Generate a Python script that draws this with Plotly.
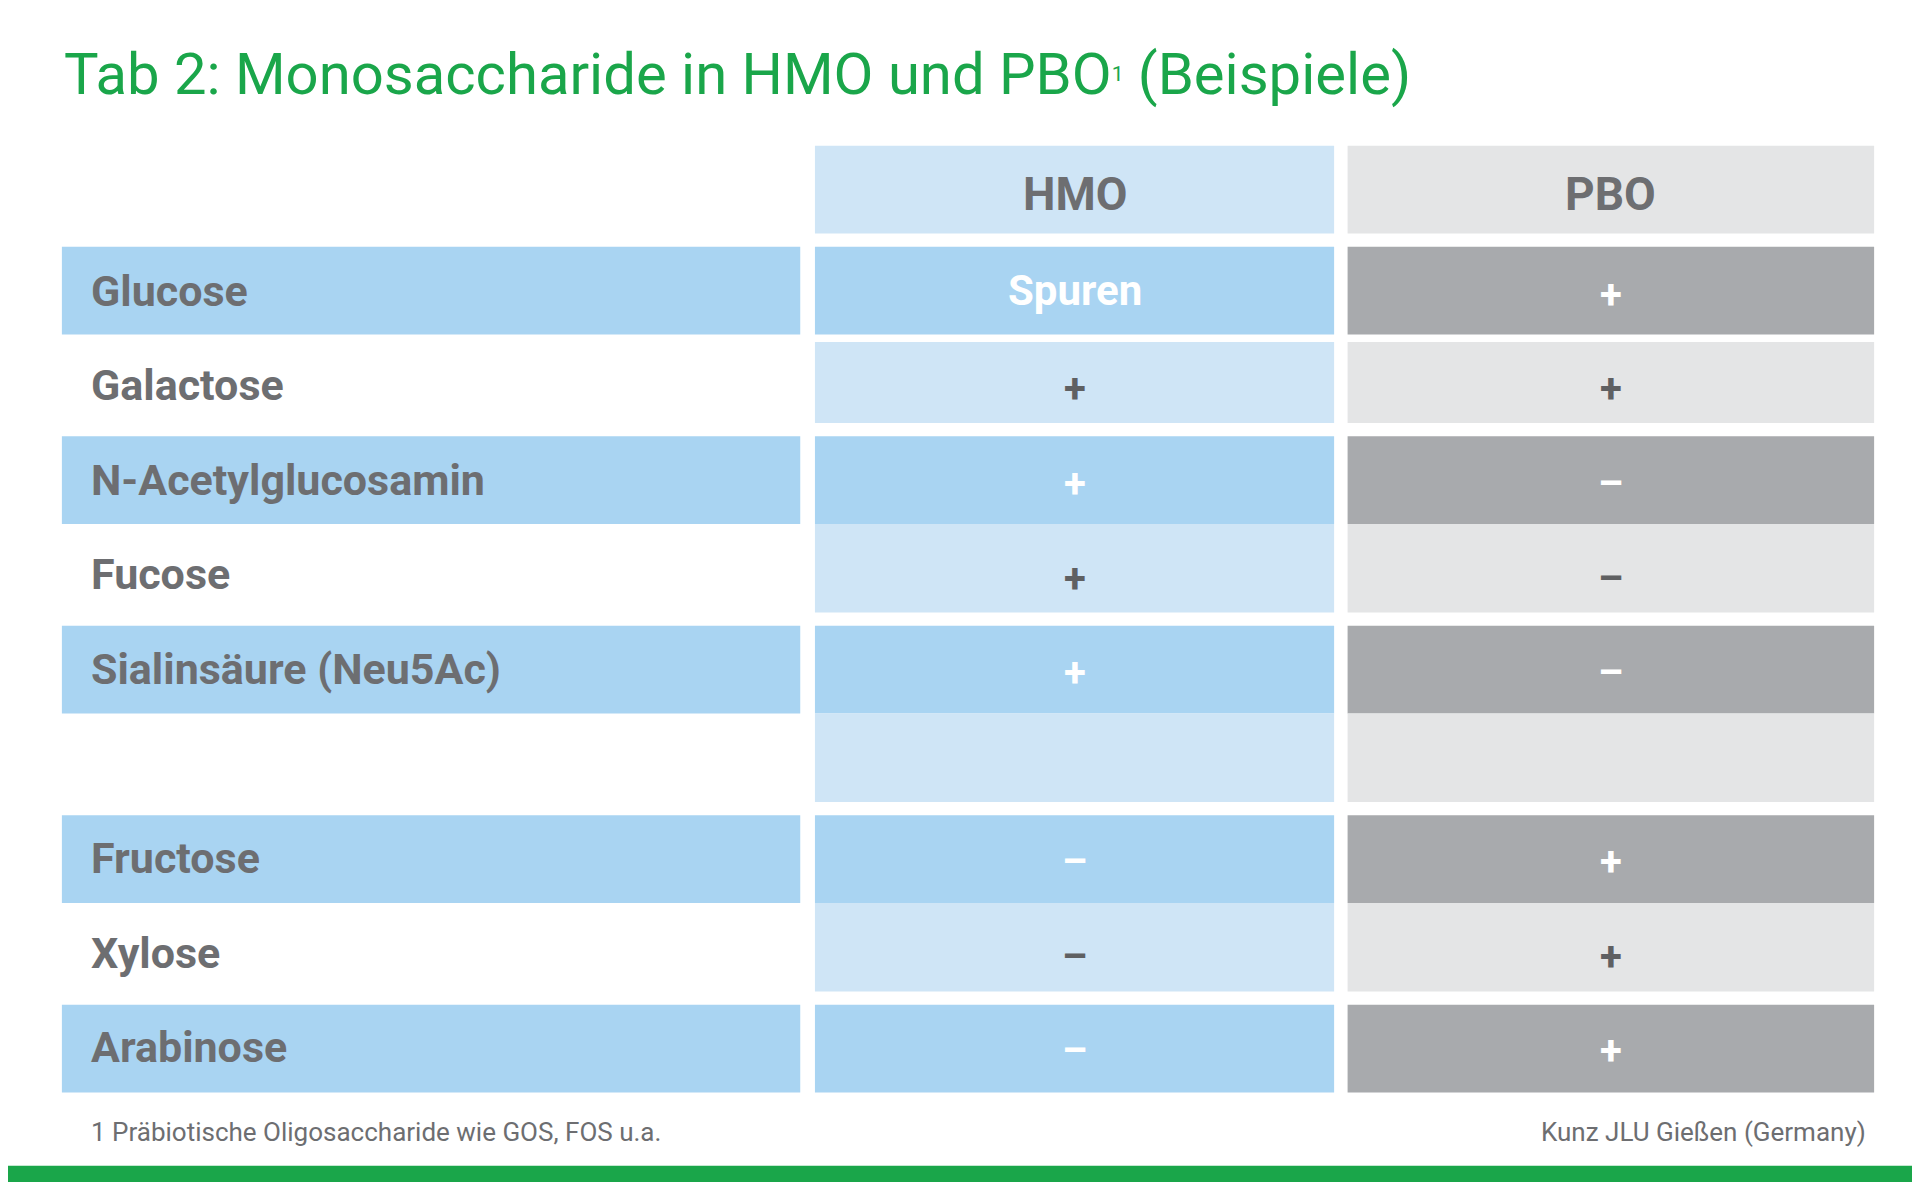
import plotly.graph_objects as go

# data
title = "Tab 2: Monosaccharide in HMO und PBO<span style='font-size:30px'><sup>1</sup></span> (Beispiele)"
columns = ["HMO", "PBO"]
sugars = ["Glucose", "Galactose", "N-Acetylglucosamin", "Fucose",
          "Sialinsäure (Neu5Ac)", "", "Fructose", "Xylose", "Arabinose"]
hmo = ["Spuren", "+", "+", "+", "+", "", "–", "–", "–"]
pbo = ["+", "+", "–", "–", "–", "", "+", "+", "+"]
footnote = "1 Präbiotische Oligosaccharide wie GOS, FOS u.a."
source = "Kunz JLU Gießen (Germany)"

FONT = "Liberation Sans Narrow, Roboto, sans-serif"
GREEN = "#1aa64a"
TEXT = "#6d6e71"
col_x = [(44, 647), (659, 1083), (1094, 1524)]
dark = ["#a9d4f2", "#a9d4f2", "#a8aaad"]
light = [None, "#cfe5f6", "#e4e5e6"]
head = ["#cfe5f6", "#e4e5e6"]

shapes, annotations = [], []


def rect(x0, x1, y0, y1, color):
    shapes.append(dict(type="rect", xref="x", yref="y", x0=x0, x1=x1,
                       y0=y0, y1=y1, fillcolor=color, line=dict(width=0),
                       layer="below"))


def label(x, y, text, size, color, xanchor="center", bold=True):
    annotations.append(dict(x=x, y=y, xref="x", yref="y", text=f"<b>{text}</b>" if bold else text,
                            showarrow=False, xanchor=xanchor, yanchor="middle",
                            font=dict(family=FONT, size=size, color=color)))


# header
for j, name in enumerate(columns):
    x0, x1 = col_x[j + 1]
    rect(x0, x1, 113, 185, head[j])
    label((x0 + x1) / 2, 153, name, 46, TEXT)

# rows
for i, sugar in enumerate(sugars):
    k = i // 2
    if i % 2 == 0:
        top, bot = 196 + 155.5 * k, 196 + 155.5 * k + 72
        cols = [0, 1, 2]
        fills = dark
    else:
        top = 274 if k == 0 else 196 + 155.5 * k + 72
        bot = 196 + 155.5 * (k + 1) - 11
        cols = [1, 2]
        fills = light
    for c in cols:
        rect(col_x[c][0], col_x[c][1], top, bot, fills[c])
    yc = 232 + 77.6 * i
    label(66, yc, sugar, 43, TEXT, xanchor="left")
    vcol = "white" if i % 2 == 0 else "#5f6062"
    for j, vals in enumerate([hmo, pbo]):
        x0, x1 = col_x[j + 1]
        v = vals[i]
        label((x0 + x1) / 2, yc + (0 if v == "Spuren" else 3), v,
              42 if v == "Spuren" else 40, vcol)

# title, footer, green bar
label(44, 54, title, 58, GREEN, xanchor="left", bold=False)
label(66, 922, footnote, 26, TEXT, xanchor="left", bold=False)
annotations.append(dict(x=1519, y=922, xref="x", yref="y", text=source, showarrow=False,
                        xanchor="right", yanchor="middle",
                        font=dict(family=FONT, size=26, color=TEXT)))
rect(0, 1568, 950, 966, GREEN)

fig = go.Figure(go.Scatter(x=[0, 1568], y=[0, 970], mode="markers",
                           marker=dict(opacity=0), hoverinfo="skip"))
fig.update_layout(
    width=1920, height=1182, margin=dict(l=0, r=0, t=0, b=0, autoexpand=False),
    paper_bgcolor="white", plot_bgcolor="white", showlegend=False,
    shapes=shapes, annotations=annotations,
    xaxis=dict(range=[0, 1568], visible=False, fixedrange=True),
    yaxis=dict(range=[970, 0], visible=False, fixedrange=True),
)
fig.write_html("out.html")
